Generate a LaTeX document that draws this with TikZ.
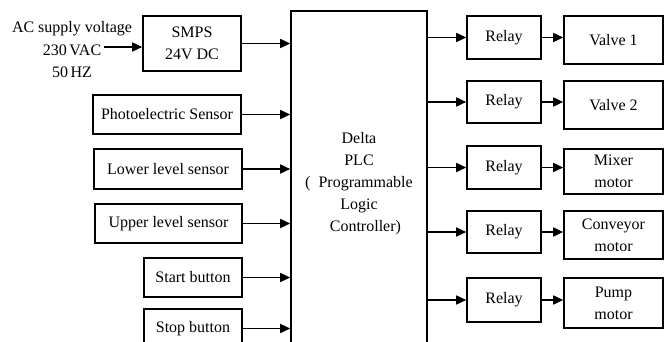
\documentclass[tikz,border=0pt]{standalone}
\usepackage{fontspec}
\setmainfont{Liberation Serif}
\usepackage{tikz}
\usetikzlibrary{positioning,arrows.meta,calc}
\tikzset{
  blk/.style   = {rectangle, draw=black, line width=1.6pt, inner sep=2pt, align=center,
                  font=\fontsize{16}{22}\selectfont},
  flow/.style  = {-{Triangle[length=10pt,width=9pt]}, line width=1.6pt},
  txt/.style   = {inner sep=0pt, align=center, font=\fontsize{16}{22.5}\selectfont},
}

\begin{document}
\begin{tikzpicture}[x=1pt, y=-1pt]
  \useasboundingbox (0,0) rectangle (668,342);

  % supply side
  \node[txt] (ac) at (72,50) {AC supply voltage\\[0pt]230\,VAC\hspace{0.3em}\\[0pt]50\,HZ\hspace{0.6em}};
  \coordinate (acin) at (104,47);
  \node[blk, minimum width=98pt, minimum height=55pt] (smps) at (192,43.5) {SMPS\\24V DC};

  % the controller, runs past the lower edge
  \node[blk, minimum width=136pt, minimum height=345pt] (plc) at (359,183.5)
    {Delta\\PLC\\( \ Programmable\\Logic\hspace{2.2em}\\\hspace{0.8em}Controller)};

  % inputs
  \node[blk, minimum width=148pt, minimum height=39pt] (photo) at (167,114.5) {Photoelectric Sensor};
  \node[blk, minimum width=148pt, minimum height=40pt] (lower) at (168,169) {Lower level sensor};
  \node[blk, minimum width=147pt, minimum height=39pt] (upper) at (168.5,223.5) {Upper level sensor};
  \node[blk, minimum width=98pt, minimum height=39pt] (start) at (193,277.5) {Start button};
  \node[blk, minimum width=98pt, minimum height=39pt] (stop) at (193,328.5) {Stop button};

  \draw[flow] (acin) -- (acin -| smps.west);
  \draw[flow] (smps.east) -- (smps.east -| plc.west);
  \foreach \n in {photo,lower,upper,start,stop}
    \draw[flow] (\n.east) -- (\n.east -| plc.west);

  % outputs
  \foreach \n/\y/\h in {1/37.5/43, 2/102/42, 3/167.5/43, 4/232/42, 5/300/44}
    \node[blk, minimum width=74pt, minimum height=\h pt] (relay\n) at (504,\y) {Relay};
  \node[blk, minimum width=99pt, minimum height=48pt] (dev1) at (613.5,40) {Valve 1};
  \node[blk, minimum width=99pt, minimum height=48pt] (dev2) at (613.5,105) {Valve 2};
  \node[blk, minimum width=99pt, minimum height=45pt] (dev3) at (613.5,171.5) {Mixer\\motor};
  \node[blk, minimum width=99pt, minimum height=48pt] (dev4) at (613.5,235) {Conveyor\\motor};
  \node[blk, minimum width=99pt, minimum height=50pt] (dev5) at (613.5,303) {Pump\\motor};

  \foreach \n in {1,...,5} {
    \draw[flow] (relay\n.west -| plc.east) -- (relay\n.west);
    \draw[flow] (relay\n.east) -- (relay\n.east -| dev\n.west);
  }
\end{tikzpicture}
\end{document}
